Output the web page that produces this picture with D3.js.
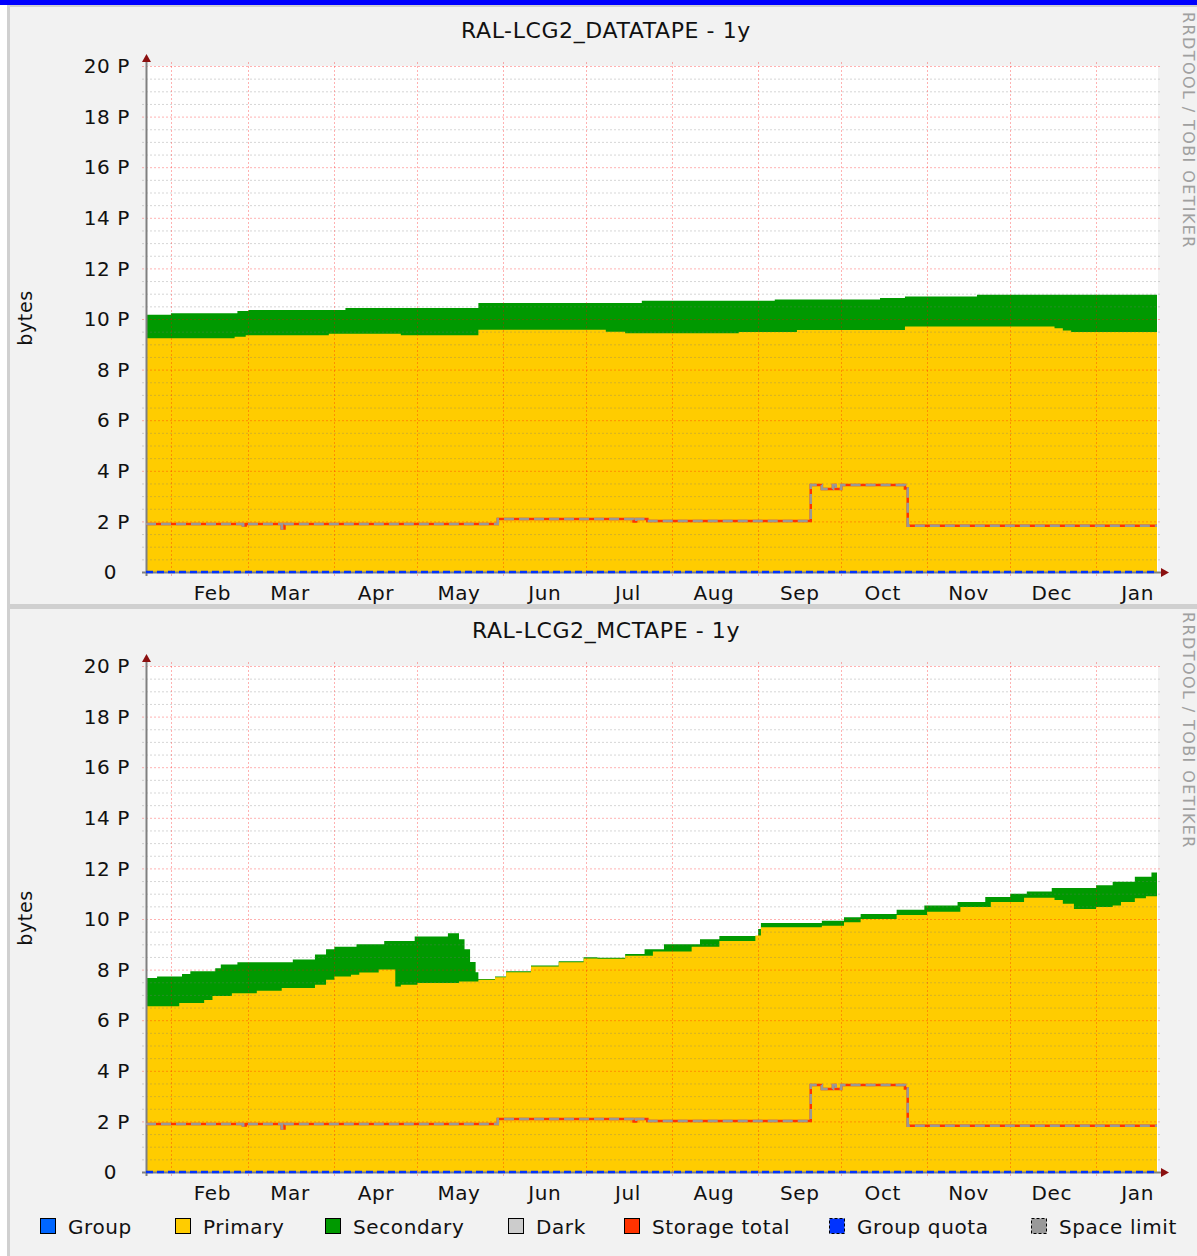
<!DOCTYPE html>
<html>
<head>
<meta charset="utf-8">
<script src="https://cdn.jsdelivr.net/npm/d3@7"></script>
<style>
body { margin: 0; background: #fff; }
text { font-family: "DejaVu Sans", sans-serif; fill: #111; letter-spacing: 0.6px; }
</style>
</head>
<body>
<div id="chart"></div>
<script>
// Time range of the 1y graphs
var startDate = "2018-01-23",
	endDate = "2019-01-23";

// Tick labels
var yTickValues = [0, 2, 4, 6, 8, 10, 12, 14, 16, 18, 20];
var yTickLabels = ["0", "2 P", "4 P", "6 P", "8 P", "10 P", "12 P", "14 P", "16 P", "18 P", "20 P"];
var monthLabels = ["Feb", "Mar", "Apr", "May", "Jun", "Jul", "Aug", "Sep", "Oct", "Nov", "Dec", "Jan"];

// Graph titles
var titles = ["RAL-LCG2_DATATAPE - 1y", "RAL-LCG2_MCTAPE - 1y"];

// DATATAPE: primary (yellow) and primary+secondary (top of green), in PB
var dataPrimary = [
	["2018-01-23", 9.24], ["2018-02-24", 9.30], ["2018-02-28", 9.36], ["2018-03-30", 9.42],
	["2018-04-25", 9.36], ["2018-05-23", 9.58], ["2018-07-08", 9.50], ["2018-07-15", 9.44],
	["2018-08-25", 9.49], ["2018-09-15", 9.57], ["2018-10-24", 9.70], ["2018-12-17", 9.63],
	["2018-12-20", 9.55], ["2018-12-23", 9.49], ["2019-01-23", 9.49]
];
var dataTotal = [
	["2018-01-23", 10.17], ["2018-02-01", 10.23], ["2018-02-25", 10.32], ["2018-03-01", 10.36],
	["2018-04-05", 10.43], ["2018-05-23", 10.63], ["2018-07-21", 10.72], ["2018-09-07", 10.77],
	["2018-10-15", 10.83], ["2018-10-24", 10.89], ["2018-11-19", 10.96], ["2019-01-23", 10.96]
];

// MCTAPE
var mcPrimary = [
	["2018-01-23", 6.55], ["2018-02-04", 6.68], ["2018-02-13", 6.80], ["2018-02-16", 6.96],
	["2018-02-23", 7.07], ["2018-03-04", 7.16], ["2018-03-13", 7.27], ["2018-03-25", 7.40],
	["2018-03-29", 7.60], ["2018-04-01", 7.73], ["2018-04-07", 7.80], ["2018-04-10", 7.89],
	["2018-04-17", 8.00], ["2018-04-23", 7.33], ["2018-04-25", 7.40], ["2018-05-01", 7.47],
	["2018-05-16", 7.53], ["2018-05-23", 7.60], ["2018-05-29", 7.70], ["2018-06-02", 7.90],
	["2018-06-11", 8.12], ["2018-06-21", 8.29], ["2018-06-30", 8.44], ["2018-07-05", 8.43],
	["2018-07-15", 8.55], ["2018-07-25", 8.72], ["2018-08-08", 8.90], ["2018-08-18", 9.13],
	["2018-08-31", 9.35], ["2018-09-02", 9.67], ["2018-09-24", 9.73], ["2018-10-02", 9.87],
	["2018-10-08", 10.00], ["2018-10-21", 10.16], ["2018-11-01", 10.29], ["2018-11-13", 10.47],
	["2018-11-24", 10.67], ["2018-12-06", 10.84], ["2018-12-17", 10.75], ["2018-12-20", 10.60],
	["2018-12-24", 10.40], ["2019-01-01", 10.47], ["2019-01-07", 10.53], ["2019-01-10", 10.67],
	["2019-01-15", 10.82], ["2019-01-19", 10.90], ["2019-01-23", 10.90]
];
var mcTotal = [
	["2018-01-23", 7.67], ["2018-01-27", 7.73], ["2018-02-05", 7.83], ["2018-02-08", 7.93],
	["2018-02-17", 8.05], ["2018-02-19", 8.20], ["2018-02-25", 8.29], ["2018-03-17", 8.40],
	["2018-03-25", 8.60], ["2018-03-29", 8.80], ["2018-04-01", 8.90], ["2018-04-09", 9.00],
	["2018-04-19", 9.13], ["2018-04-30", 9.31], ["2018-05-12", 9.44], ["2018-05-16", 9.20],
	["2018-05-18", 8.80], ["2018-05-20", 8.30], ["2018-05-22", 7.90], ["2018-05-23", 7.63],
	["2018-05-29", 7.73], ["2018-06-02", 7.93], ["2018-06-11", 8.16], ["2018-06-21", 8.33],
	["2018-06-30", 8.49], ["2018-07-05", 8.47], ["2018-07-15", 8.62], ["2018-07-22", 8.80],
	["2018-07-29", 9.00], ["2018-08-11", 9.20], ["2018-08-18", 9.33], ["2018-09-01", 9.60],
	["2018-09-02", 9.84], ["2018-09-24", 9.93], ["2018-10-02", 10.07], ["2018-10-08", 10.20],
	["2018-10-21", 10.37], ["2018-10-31", 10.53], ["2018-11-12", 10.67], ["2018-11-22", 10.87],
	["2018-12-01", 11.00], ["2018-12-07", 11.09], ["2018-12-16", 11.23], ["2019-01-01", 11.33],
	["2019-01-07", 11.47], ["2019-01-15", 11.67], ["2019-01-21", 11.84], ["2019-01-23", 11.84]
];

// Storage total / space limit (same on both graphs) and group quota
var storageTotal = [
	["2018-01-23", 1.90], ["2018-02-27", 1.84], ["2018-02-28", 1.90], ["2018-03-13", 1.72],
	["2018-03-14", 1.90], ["2018-05-30", 2.09], ["2018-07-18", 2.00], ["2018-07-19", 2.09],
	["2018-07-23", 2.02], ["2018-09-20", 3.44], ["2018-09-24", 3.28], ["2018-09-28", 3.44],
	["2018-09-29", 3.28], ["2018-10-01", 3.44], ["2018-10-24", 3.30], ["2018-10-25", 1.83],
	["2019-01-23", 1.83]
];
var spaceLimit = storageTotal;
var groupQuota = [["2018-01-23", 0], ["2019-01-23", 0]];

// Legend
var legendNames = ["Group", "Primary", "Secondary", "Dark", "Storage total", "Group quota", "Space limit"];
var legendColors = ["#0066ff", "#ffcc00", "#009900", "#cccccc", "#ff3300", "#0033ff", "#999999"];
var legendX = [40, 175, 325, 508, 624, 829, 1031];

// Chart size
var width = 1197,
	height = 1256;

var parseTime = d3.timeParse("%Y-%m-%d");

var x = d3.scaleTime()
	.domain([parseTime(startDate), parseTime(endDate)])
	.range([146, 1157]);

var y = d3.scaleLinear()
	.domain([0, 20])
	.range([572, 66]);

function prep(arr) {
	return arr.map(function (d) {
		return { date: parseTime(d[0]), value: d[1] };
	});
}

var svg = d3.select("#chart")
	.append("svg")
	.attr("width", width)
	.attr("height", height);

// Frame
svg.append("rect").attr("x", 0).attr("y", 0).attr("width", width).attr("height", 5).attr("fill", "#0000ff");
svg.append("rect").attr("x", 7).attr("y", 5).attr("width", width - 7).attr("height", height - 5).attr("fill", "#d0d0d0");
svg.append("rect").attr("x", 10).attr("y", 7).attr("width", width - 10).attr("height", 597).attr("fill", "#f2f2f2");
svg.append("rect").attr("x", 10).attr("y", 609).attr("width", width - 10).attr("height", height - 609).attr("fill", "#f2f2f2");

var area = d3.area()
	.curve(d3.curveStepAfter)
	.x(function (d) { return x(d.date); })
	.y0(y(0))
	.y1(function (d) { return y(d.value); });

var line = d3.line()
	.curve(d3.curveStepAfter)
	.x(function (d) { return x(d.date); })
	.y(function (d) { return y(d.value); });

function drawPanel(offset, title, primary, total) {
	var g = svg.append("g")
		.attr("transform", "translate(0," + offset + ")");

	// Title
	g.append("text")
		.attr("x", 606)
		.attr("y", 38)
		.attr("text-anchor", "middle")
		.style("font-size", "22px")
		.text(title);

	// Watermark
	g.append("text")
		.attr("transform", "translate(1183,12) rotate(90)")
		.style("font-size", "16px")
		.style("letter-spacing", "1.4px")
		.style("fill", "#a0a0a0")
		.text("RRDTOOL / TOBI OETIKER");

	// Unit label
	g.append("text")
		.attr("transform", "translate(32,318) rotate(-90)")
		.attr("text-anchor", "middle")
		.style("font-size", "19px")
		.text("bytes");

	// Canvas
	g.append("rect")
		.attr("x", 146).attr("y", 66)
		.attr("width", 1158 - 146).attr("height", 572 - 66)
		.attr("fill", "#ffffff");

	// Stacked areas
	g.append("path").datum(prep(total)).attr("d", area).attr("fill", "#009900");
	g.append("path").datum(prep(primary)).attr("d", area).attr("fill", "#ffcc00");

	// Minor horizontal grid
	var minor = d3.range(0.5, 20.01, 0.5).filter(function (v) { return v % 2 !== 0; });
	g.selectAll(".minor")
		.data(minor)
		.enter()
		.append("line")
		.attr("x1", 142).attr("x2", 1160)
		.attr("y1", function (d) { return y(d) + 0.5; })
		.attr("y2", function (d) { return y(d) + 0.5; })
		.attr("stroke", "rgba(120,120,120,0.3)")
		.attr("stroke-dasharray", "2,2");

	// Major horizontal grid
	g.selectAll(".major")
		.data(yTickValues.slice(1))
		.enter()
		.append("line")
		.attr("x1", 142).attr("x2", 1160)
		.attr("y1", function (d) { return y(d) + 0.5; })
		.attr("y2", function (d) { return y(d) + 0.5; })
		.attr("stroke", "rgba(255,0,0,0.3)")
		.attr("stroke-dasharray", "2,2");

	// Month grid
	var months = d3.timeMonth.range(x.domain()[0], x.domain()[1]);
	g.selectAll(".month")
		.data(months)
		.enter()
		.append("line")
		.attr("x1", function (d) { return Math.round(x(d)) + 0.5; })
		.attr("x2", function (d) { return Math.round(x(d)) + 0.5; })
		.attr("y1", 62).attr("y2", 577)
		.attr("stroke", "rgba(255,0,0,0.3)")
		.attr("stroke-dasharray", "2,2");

	// Month labels, centred in the month
	g.selectAll(".mlabel")
		.data(months)
		.enter()
		.append("text")
		.attr("x", function (d) { return x(d3.timeDay.offset(d, 15)); })
		.attr("y", 600)
		.attr("text-anchor", "middle")
		.style("font-size", "20px")
		.text(function (d, i) { return monthLabels[i]; });

	// Y labels
	g.selectAll(".ylabel")
		.data(yTickValues)
		.enter()
		.append("text")
		.attr("x", function (d) { return d === 0 ? 117 : 130; })
		.attr("y", function (d) { return y(d); })
		.attr("dy", "0.36em")
		.attr("text-anchor", "end")
		.style("font-size", "20px")
		.text(function (d, i) { return yTickLabels[i]; });

	// Axes
	g.append("line")
		.attr("x1", 146.5).attr("x2", 146.5)
		.attr("y1", 576).attr("y2", 60)
		.attr("stroke", "#808080").attr("stroke-width", 2);
	g.append("line")
		.attr("x1", 142).attr("x2", 1162)
		.attr("y1", 572.5).attr("y2", 572.5)
		.attr("stroke", "#808080").attr("stroke-width", 2);
	g.append("path")
		.attr("d", "M142,62L146.5,54L151,62Z")
		.attr("fill", "#8b1010");
	g.append("path")
		.attr("d", "M1161,568L1169,572.5L1161,577Z")
		.attr("fill", "#8b1010");

	// Storage total, space limit, group quota
	g.append("path").datum(prep(storageTotal)).attr("d", line)
		.attr("fill", "none").attr("stroke", "#ff3300").attr("stroke-width", 2.5);
	g.append("path").datum(prep(spaceLimit)).attr("d", line)
		.attr("fill", "none").attr("stroke", "#999999").attr("stroke-width", 2.5)
		.attr("stroke-dasharray", "10,5");
	g.append("path").datum(prep(groupQuota)).attr("d", line)
		.attr("fill", "none").attr("stroke", "#0033ff").attr("stroke-width", 2.5)
		.attr("stroke-dasharray", "7,4");
}

drawPanel(0, titles[0], dataPrimary, dataTotal);
drawPanel(600, titles[1], mcPrimary, mcTotal);

// Legend
var legend = svg.selectAll(".legend")
	.data(legendNames)
	.enter()
	.append("g")
	.attr("transform", function (d, i) { return "translate(" + legendX[i] + ",1218)"; });

legend.append("rect")
	.attr("x", 0.5).attr("y", 0.5)
	.attr("width", 15).attr("height", 15)
	.attr("fill", function (d, i) { return legendColors[i]; })
	.attr("stroke", "#000")
	.attr("stroke-dasharray", function (d, i) { return i >= 5 ? "3,2" : null; });

legend.append("text")
	.attr("x", 28)
	.attr("y", 16)
	.style("font-size", "20px")
	.text(function (d) { return d; });
</script>
</body>
</html>
